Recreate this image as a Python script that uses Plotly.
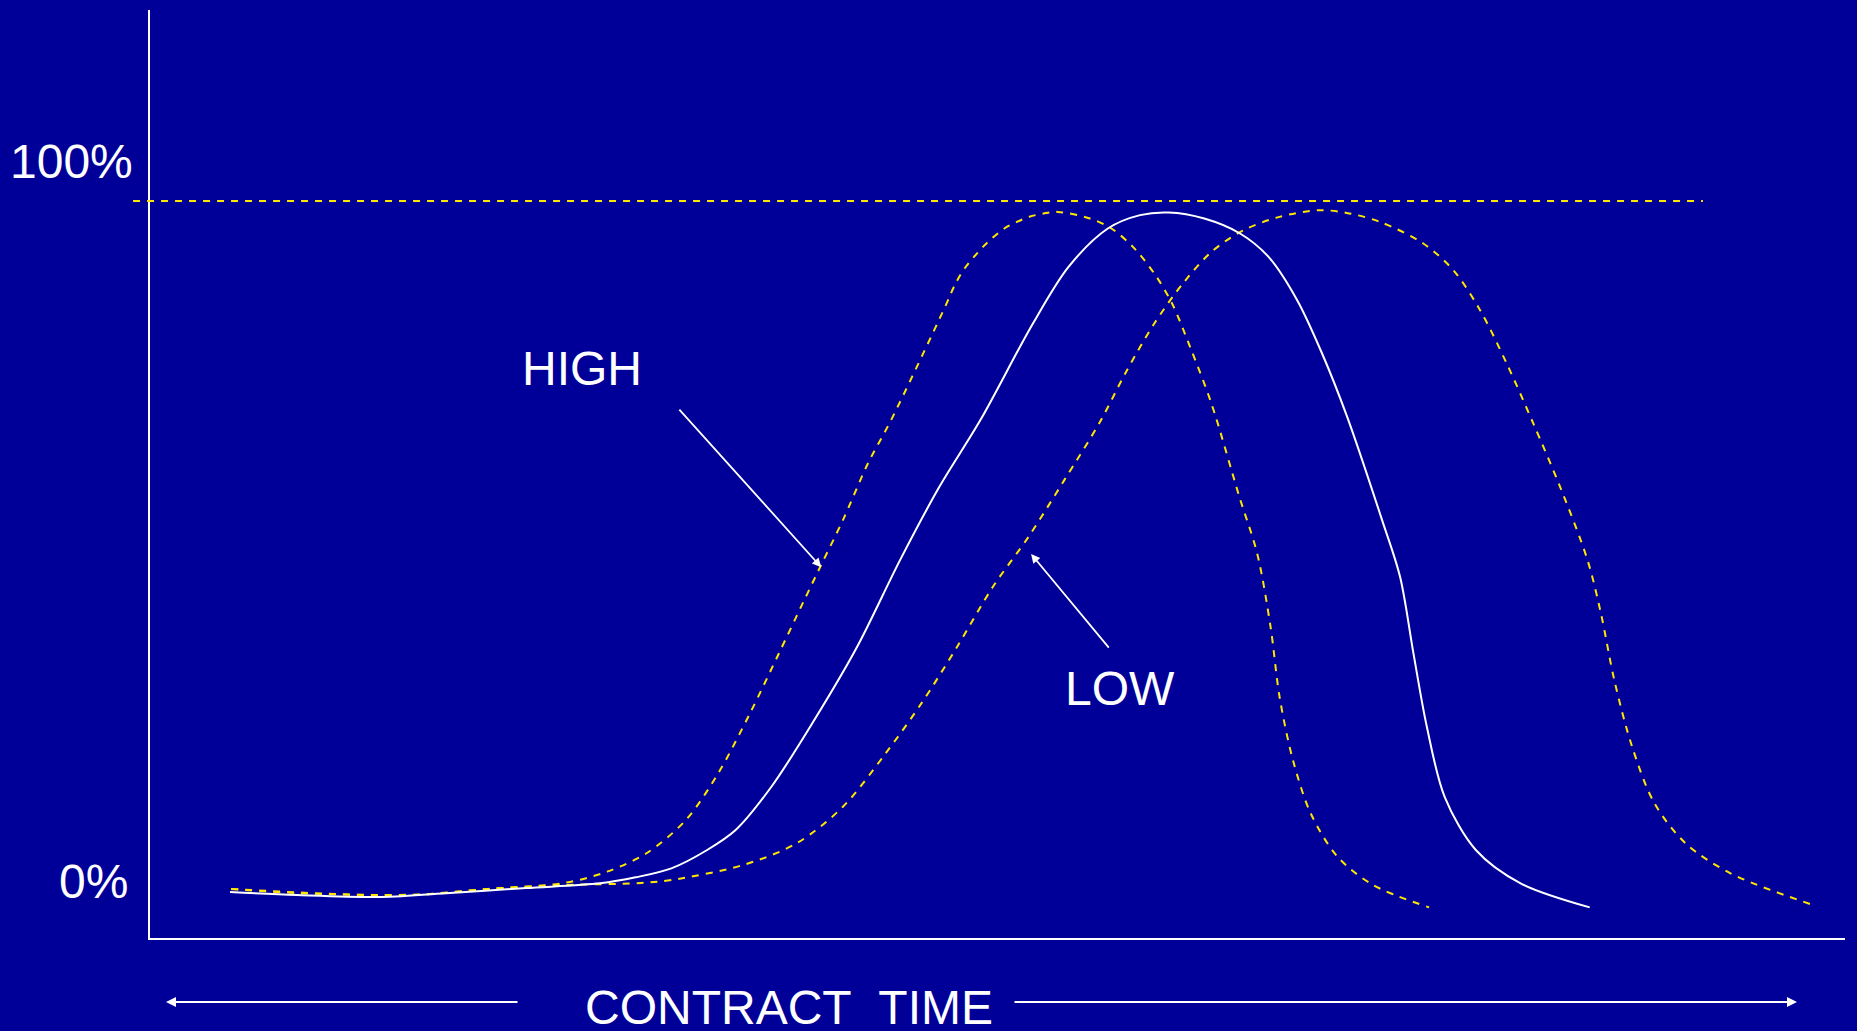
import plotly.graph_objects as go

# ---- data (x: contract time 0-100, y: percent of 100% line) ----
high_x = [4.78, 8.67, 13.16, 16.52, 19.94, 24.42, 26.97, 29.29, 31.61, 33.51, 35.40, 37.10,
          38.59, 39.53, 40.88, 42.36, 43.72, 46.82, 47.55, 48.08, 48.61, 49.14, 49.66,
          50.40, 51.14, 51.88, 52.72, 53.56, 55.46, 56.72, 57.99, 59.25, 60.30, 61.36, 62.62,
          64.27, 65.32, 66.11, 66.64, 67.43, 68.48, 70.06, 72.16, 75.46]
high_y = [6.65, 6.10, 5.83, 5.97, 6.65, 7.46, 9.00, 11.50, 16.00, 22.30, 30.50, 38.60,
          45.80, 50.30, 56.70, 64.40, 70.26, 85.20, 88.90, 90.90, 92.40, 93.76, 94.90,
          96.26, 97.15, 97.85, 98.29, 98.51, 97.61, 96.26, 93.76, 90.15, 86.08, 80.20, 72.52,
          59.85, 52.18, 42.22, 32.73, 24.14, 16.91, 11.03, 7.19, 4.16]

mid_x = [4.72, 8.67, 13.63, 17.70, 22.18, 26.55, 28.65, 30.76, 32.87, 34.55, 36.66, 39.19,
         41.72, 44.25, 46.57, 48.99, 52.09, 54.19, 56.51, 58.41, 60.09, 62.20, 64.31, 65.99,
         67.68, 69.15, 70.63, 72.69, 73.75, 74.54, 75.33, 76.38, 78.22, 80.86, 84.94]
mid_y = [6.24, 5.83, 5.56, 6.10, 6.78, 7.42, 8.23, 9.45, 11.94, 14.65, 20.52, 29.57,
         39.51, 51.27, 61.21, 70.26, 83.37, 91.05, 96.26, 98.07, 98.43, 97.61, 95.58, 92.41,
         86.53, 79.30, 70.70, 56.69, 49.00, 38.61, 28.66, 19.16, 11.94, 7.42, 4.16]

low_x = [4.78, 10.91, 15.40, 19.94, 24.42, 28.97, 30.76, 34.98, 38.14, 40.88, 43.40, 45.51,
         47.62, 49.73, 51.83, 53.94, 56.05, 57.56, 59.25, 60.94, 62.62, 64.52, 66.63, 68.94,
         70.60, 72.57, 75.12, 76.89, 78.47, 80.04, 81.61, 83.19, 84.81, 85.60, 86.39, 87.44,
         88.76, 90.60, 93.24, 98.11]
low_y = [6.65, 5.97, 5.83, 6.65, 7.19, 7.46, 7.87, 9.90, 12.84, 17.81, 25.05, 31.83,
         39.51, 47.65, 54.43, 62.12, 70.03, 76.70, 83.37, 88.80, 93.08, 96.03, 97.83, 98.74,
         98.37, 97.15, 94.22, 90.60, 85.18, 77.95, 69.81, 61.21, 51.27, 44.04, 34.99, 25.95,
         18.27, 12.84, 8.78, 4.48]

tick_labels = ["100%", "0%"]
labels = ["HIGH", "LOW"]
axis_title = "CONTRACT\u00a0\u00a0TIME"

BG = "#000099"
YEL = "#FFE600"
FONT = "Liberation Sans, Arial, sans-serif"

fig = go.Figure()
dash_line = dict(color=YEL, width=2, dash="7px,7px", shape="spline", smoothing=0.9)
fig.add_trace(go.Scatter(x=high_x, y=high_y, mode="lines", line=dash_line, hoverinfo="skip"))
fig.add_trace(go.Scatter(x=low_x, y=low_y, mode="lines", line=dash_line, hoverinfo="skip"))
fig.add_trace(go.Scatter(x=mid_x, y=mid_y, mode="lines",
                         line=dict(color="white", width=2, shape="spline", smoothing=0.9),
                         hoverinfo="skip"))

# 100% reference line (extends slightly left of the axis)
fig.add_shape(type="line", xref="paper", yref="y", x0=-0.010, x1=0.9162, y0=100, y1=100,
              line=dict(color=YEL, width=2, dash="7px,7px"))

txt = dict(family=FONT, size=48, color="white")
annos = [
    dict(xref="paper", yref="y", x=-0.0088, y=105.4, text=tick_labels[0], showarrow=False,
         xanchor="right", yanchor="middle", font=txt),
    dict(xref="paper", yref="y", x=-0.0117, y=7.7, text=tick_labels[1], showarrow=False,
         xanchor="right", yanchor="middle", font=txt),
    dict(xref="x", yref="y", x=25.46, y=77.2, text=labels[0], showarrow=False,
         xanchor="center", yanchor="middle", font=txt),
    dict(xref="x", yref="y", x=57.2, y=33.8, text=labels[1], showarrow=False,
         xanchor="center", yanchor="middle", font=txt),
    # pointer arrows
    dict(xref="x", yref="y", axref="x", ayref="y", x=39.6, y=50.3, ax=31.15, ay=71.9, text="",
         showarrow=True, arrowhead=2, arrowsize=1, arrowwidth=1.8, arrowcolor="white",
         standoff=0, startstandoff=0),
    dict(xref="x", yref="y", axref="x", ayref="y", x=51.98, y=52.1, ax=56.64, ay=39.2, text="",
         showarrow=True, arrowhead=2, arrowsize=1, arrowwidth=1.8, arrowcolor="white",
         standoff=0, startstandoff=0),
    # bottom time axis label and arrows
    dict(xref="paper", yref="paper", x=(789 - 150) / 1695, y=-(1007.5 - 938) / 928, text=axis_title,
         showarrow=False, xanchor="center", yanchor="middle", font=txt),
    dict(xref="paper", yref="paper", x=(166 - 150) / 1695, y=-(1002 - 938) / 928, ax=353, ay=0,
         text="", showarrow=True, arrowhead=2, arrowsize=1, arrowwidth=2, arrowcolor="white",
         standoff=0, startstandoff=0),
    dict(xref="paper", yref="paper", x=(1797 - 150) / 1695, y=-(1002 - 938) / 928, ax=-784, ay=0,
         text="", showarrow=True, arrowhead=2, arrowsize=1, arrowwidth=2, arrowcolor="white",
         standoff=0, startstandoff=0),
]

fig.update_layout(
    width=1857, height=1031, autosize=False,
    margin=dict(l=150, r=12, t=10, b=93, pad=0),
    paper_bgcolor=BG, plot_bgcolor=BG,
    showlegend=False,
    annotations=annos,
    xaxis=dict(range=[0, 100], showgrid=False, zeroline=False, showticklabels=False, ticks="",
               showline=True, linecolor="white", linewidth=2, fixedrange=True),
    yaxis=dict(range=[0, 125.9], showgrid=False, zeroline=False, showticklabels=False, ticks="",
               showline=True, linecolor="white", linewidth=2, fixedrange=True),
)

fig.write_html("out.html", config=dict(displayModeBar=False),
               post_script="document.body.style.margin='0';document.body.style.overflow='hidden';document.body.style.background='#000099';")
